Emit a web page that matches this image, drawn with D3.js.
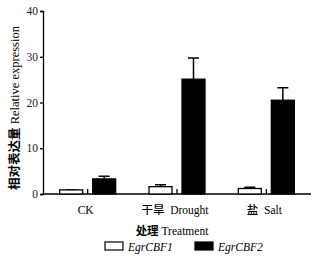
<!DOCTYPE html>
<html>
<head>
<meta charset="utf-8">
<style>
  body { margin: 0; background: #fff; }
</style>
</head>
<body>
<svg width="328" height="261"></svg>
<script src="https://d3js.org/d3.v7.min.js"></script>
<script>
const categories = ["CK", "Drought", "Salt"];
const catZh = ["", "干旱", "盐"];
const seriesNames = ["EgrCBF1", "EgrCBF2"];
const cbf1 = [0.9, 1.6, 1.2];
const cbf1Err = [0.0, 0.4, 0.3];
const cbf2 = [3.3, 25.1, 20.5];
const cbf2Err = [0.6, 4.6, 2.7];
const yTicks = [0, 10, 20, 30, 40];

const SERIF = '"Liberation Serif"';
const CJK = '"Noto Sans CJK SC"';

const svg = d3.select("svg");
const mLeft = 43, mRight = 311, mTop = 11, mBottom = 194;

const x = d3.scaleBand().domain(categories).range([mLeft, mRight]);
const y = d3.scaleLinear().domain([0, 40]).range([mBottom, mTop]);
const colors = ["#fff", "#000"];
const barW = 23, gap = 10;

// y axis
const yAxis = d3.axisLeft(y).tickValues(yTicks).tickSize(3).tickPadding(2);
const gy = svg.append("g").attr("transform", `translate(${mLeft},0)`).call(yAxis);
gy.attr("font-family", null);
gy.select(".domain").attr("stroke", "#000").attr("stroke-width", 1.3);
gy.selectAll(".tick line").attr("stroke-width", 1.3);
gy.selectAll("text").style("font-family", SERIF).style("font-size", "11.5px").attr("fill", "#222");

// x axis (ticks pointing inward)
const xAxis = d3.axisBottom(x).tickSize(-5).tickFormat("");
const gx = svg.append("g").attr("transform", `translate(0,${mBottom})`).call(xAxis);
gx.select(".domain").attr("stroke-width", 1.3).attr("d", `M${mLeft},0H${mRight}`);
gx.selectAll(".tick line").attr("stroke-width", 1.3);

const series = [
  { vals: cbf1, err: cbf1Err },
  { vals: cbf2, err: cbf2Err }
];

series.forEach((s, si) => {
  const bx = c => {
    const cx = x(c) + x.bandwidth() / 2;
    return si === 0 ? cx - gap / 2 - barW : cx + gap / 2;
  };
  // error bars
  svg.selectAll(null).data(categories).enter().append("path")
    .attr("d", (c, i) => {
      const mx = bx(c) + barW / 2;
      const yt = y(s.vals[i] + s.err[i]);
      return `M${mx},${y(s.vals[i])}V${yt}M${mx - 5.5},${yt}H${mx + 5.5}`;
    })
    .attr("stroke", "#000").attr("stroke-width", 1.5).attr("fill", "none");
  svg.selectAll(null).data(categories).enter().append("rect")
    .attr("x", c => bx(c))
    .attr("y", (c, i) => y(s.vals[i]))
    .attr("width", barW)
    .attr("height", (c, i) => mBottom - y(s.vals[i]))
    .attr("fill", colors[si])
    .attr("stroke", "#000").attr("stroke-width", 1.3);
});

// category labels
categories.forEach((c, i) => {
  const t = svg.append("text")
    .attr("x", x(c) + x.bandwidth() / 2 - 2)
    .attr("y", 214)
    .attr("text-anchor", "middle")
    .style("font-family", SERIF)
    .style("font-size", "11.5px");
  if (catZh[i]) {
    t.append("tspan").style("font-family", CJK).style("font-weight", "500").text(catZh[i]);
    t.append("tspan").text("\u00a0\u00a0" + c);
  } else {
    t.text(c);
  }
});

// x title
const xt = svg.append("text").attr("x", 172).attr("y", 235)
  .attr("text-anchor", "middle")
  .style("font-family", SERIF).style("font-size", "11.5px");
xt.append("tspan").style("font-family", CJK).style("font-weight", "bold").text("处理");
xt.append("tspan").text(" Treatment");

// y title
const yt = svg.append("text")
  .attr("transform", "translate(19,108) rotate(-90)")
  .attr("text-anchor", "middle")
  .style("font-family", SERIF).style("font-size", "12.5px");
yt.append("tspan").style("font-family", CJK).style("font-weight", "bold").text("相对表达量");
yt.append("tspan").text(" Relative expression");

// legend
const legX = [105, 195];
seriesNames.forEach((n, i) => {
  svg.append("rect").attr("x", legX[i]).attr("y", 242)
    .attr("width", 18).attr("height", 8)
    .attr("fill", colors[i]).attr("stroke", "#000").attr("stroke-width", 1.2);
  svg.append("text").attr("x", legX[i] + 23).attr("y", 250.5)
    .style("font-family", SERIF)
    .style("font-size", "11.5px").style("font-style", "italic").text(n);
});
</script>
</body>
</html>
